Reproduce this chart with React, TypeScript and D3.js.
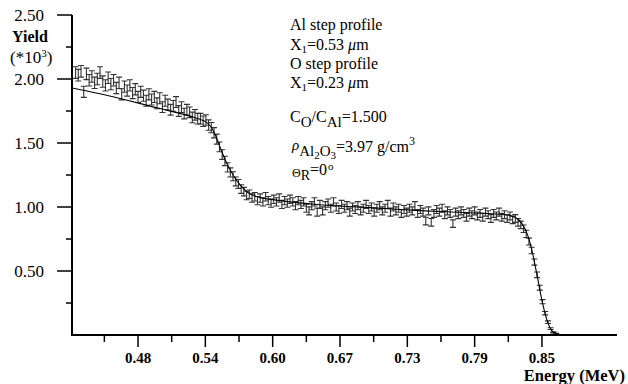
import React from "react";
import * as d3 from "d3";

// Spectrum: yield (×10^3) per channel, channel energies E0 + i*CHANNEL_WIDTH (MeV)
const E0 = 0.4225;
const CHANNEL_WIDTH = 0.0025;
const yieldData = [
  2.05, 2.03, 2.06, 1.90, 2.04, 1.99, 2.02, 1.97, 2.00, 2.05,
  1.98, 1.95, 2.01, 1.96, 1.99, 1.93, 1.97, 1.88, 1.94, 1.91,
  1.95, 1.89, 1.92, 1.86, 1.90, 1.87, 1.83, 1.88, 1.84, 1.86,
  1.81, 1.85, 1.78, 1.83, 1.80, 1.76, 1.79, 1.82, 1.75, 1.78,
  1.73, 1.76, 1.74, 1.70, 1.72, 1.69,
  1.69, 1.67, 1.68, 1.64, 1.62, 1.58, 1.53, 1.47, 1.41, 1.36, 1.31, 1.27,
  1.24, 1.20, 1.18, 1.14, 1.12, 1.09, 1.10, 1.07, 1.08, 1.05, 1.07,
  1.04, 1.08, 1.05, 1.03, 1.06, 1.04, 1.07, 1.02, 1.05, 1.03, 1.06,
  1.04, 1.01, 1.05, 1.02, 1.04, 0.99, 0.97, 1.01, 1.04, 0.96, 1.02,
  0.97, 1.01, 1.03, 0.99, 1.04, 1.00, 0.98, 1.02, 0.99, 1.01,
  0.96, 1.00, 0.98, 1.01, 0.97, 0.99, 1.02, 0.98, 1.00, 0.96,
  0.99, 1.01, 0.97, 0.99, 1.02, 0.96, 1.00, 0.97, 0.99, 0.95,
  0.98, 0.96, 0.99, 0.97, 1.01, 0.95, 0.98, 0.96, 0.89, 0.97,
  0.88, 0.95, 0.98, 0.96, 0.99, 0.94, 0.97, 0.95, 0.87, 0.96,
  0.94, 0.97, 0.95, 0.92, 0.96, 0.94, 0.97, 0.93, 0.95, 0.92,
  0.96, 0.94, 0.91, 0.95, 0.93, 0.96, 0.92, 0.94, 0.91, 0.93,
  0.90, 0.91, 0.88, 0.86, 0.83, 0.79, 0.73, 0.66, 0.57, 0.47,
  0.37, 0.26, 0.17, 0.10, 0.05, 0.02, 0.01,
];

// Simulated (fit) curve
const fitEnergy = [
  0.4192, 0.445, 0.4975, 0.5279, 0.5371, 0.5426, 0.5472, 0.5518, 0.5564,
  0.561, 0.5656, 0.5702, 0.5748, 0.5794, 0.585, 0.5923, 0.6108, 0.6476,
  0.6936, 0.7397, 0.7857, 0.8179, 0.8271, 0.8336, 0.8391, 0.8437, 0.8483,
  0.8529, 0.8575, 0.8621, 0.8686, 0.9211,
];
const fitYield = [
  1.93, 1.885, 1.775, 1.71, 1.685, 1.665, 1.625, 1.55, 1.45,
  1.355, 1.28, 1.215, 1.165, 1.125, 1.095, 1.075, 1.05, 1.018,
  0.995, 0.972, 0.955, 0.94, 0.92, 0.87, 0.775, 0.625, 0.43,
  0.235, 0.095, 0.025, 0.003, 0.0,
];

const xTickValues = [0.48, 0.542, 0.604, 0.666, 0.728, 0.79, 0.852];
const xTickLabels = ["0.48", "0.54", "0.60", "0.67", "0.73", "0.79", "0.85"];
const xMinorTicks = [0.449, 0.511, 0.573, 0.635, 0.697, 0.759, 0.821];
const yTickValues = [0.5, 1.0, 1.5, 2.0, 2.5];
const yTickLabels = ["0.50", "1.00", "1.50", "2.00", "2.50"];
const yMinorTicks = [0.25, 0.75, 1.25, 1.75, 2.25];

const W = 628;
const H = 384;
const FONT = "'Liberation Serif', 'Times New Roman', serif";

export default function App() {
  const x = d3.scaleLinear().domain([0.4192, 0.9211]).range([72, 617]);
  const y = d3.scaleLinear().domain([0, 2.5]).range([335, 15]);

  const points = yieldData.map((v, i) => ({ e: E0 + i * CHANNEL_WIDTH, v, err: Math.sqrt(v * 1000) / 1000 }));
  const fit = fitEnergy.map((e, i) => [e, fitYield[i]] as [number, number]);
  const line = d3
    .line<[number, number]>()
    .x((d) => x(d[0]))
    .y((d) => y(d[1]))
    .curve(d3.curveMonotoneX);

  const cap = 3;

  return (
    <svg
      width={W}
      height={H}
      style={{ position: "absolute", left: 0, top: 0, background: "#fff" }}
      fontFamily={FONT}
    >
      <rect width={W} height={H} fill="#fff" />
      {/* error bars */}
      <g stroke="#333" strokeWidth={1.1} fill="none">
        {points.map((p, i) => {
          const px = x(p.e);
          const y1 = y(p.v + p.err);
          const y2 = y(p.v - p.err);
          return (
            <path
              key={i}
              d={`M${px - cap},${y1}H${px + cap}M${px},${y1}V${y2}M${px - cap},${y2}H${px + cap}`}
            />
          );
        })}
      </g>
      {/* fit line */}
      <path d={line(fit) || ""} fill="none" stroke="#000" strokeWidth={1.1} />

      {/* axes */}
      <g stroke="#000" fill="none">
        <line x1={72} x2={72} y1={y(2.5)} y2={336} strokeWidth={2} />
        <line x1={71} x2={617} y1={335} y2={335} strokeWidth={2} />
        {yTickValues.map((t) => (
          <line key={t} x1={57} x2={72} y1={y(t)} y2={y(t)} strokeWidth={1.5} />
        ))}
        {yMinorTicks.map((t) => (
          <line key={t} x1={66} x2={72} y1={y(t)} y2={y(t)} strokeWidth={1.5} />
        ))}
        {xTickValues.map((t) => (
          <line key={t} x1={x(t)} x2={x(t)} y1={335} y2={347} strokeWidth={1.5} />
        ))}
        {xMinorTicks.map((t) => (
          <line key={t} x1={x(t)} x2={x(t)} y1={335} y2={342} strokeWidth={1.5} />
        ))}
      </g>
      <g fontSize={17} fill="#000" textAnchor="end">
        {yTickValues.map((t, i) => (
          <text key={t} x={44} y={y(t) + 6}>
            {yTickLabels[i]}
          </text>
        ))}
      </g>
      <g fontSize={15} fontWeight="bold" fill="#000" textAnchor="middle">
        {xTickValues.map((t, i) => (
          <text key={t} x={x(t)} y={363}>
            {xTickLabels[i]}
          </text>
        ))}
      </g>
      <text x={625} y={381} fontSize={16.5} fontWeight="bold" textAnchor="end">
        Energy (MeV)
      </text>
      <text x={12} y={42} fontSize={16} fontWeight="bold">
        Yield
      </text>
      <text x={10} y={63} fontSize={17}>
        (*10<tspan dy={-6} fontSize={11}>3</tspan>
        <tspan dy={6}>)</tspan>
      </text>

      {/* annotations */}
      <g fontSize={16} fill="#000">
        <text x={290} y={30}>Al step profile</text>
        <text x={290} y={50}>
          X<tspan dy={3} fontSize={11}>1</tspan>
          <tspan dy={-3}>=0.53 </tspan>
          <tspan fontStyle="italic">μ</tspan>m
        </text>
        <text x={290} y={69}>O step profile</text>
        <text x={290} y={88}>
          X<tspan dy={3} fontSize={11}>1</tspan>
          <tspan dy={-3}>=0.23 </tspan>
          <tspan fontStyle="italic">μ</tspan>m
        </text>
        <text x={290} y={122}>
          C<tspan dy={5} fontSize={15}>O</tspan>
          <tspan dy={-5}>/C</tspan>
          <tspan dy={5} fontSize={15}>Al</tspan>
          <tspan dy={-5}>=1.500</tspan>
        </text>
        <text x={292} y={150}>
          <tspan fontStyle="italic" fontSize={15}>ρ</tspan>
          <tspan dy={6} fontSize={15}>Al</tspan>
          <tspan dy={3} fontSize={11}>2</tspan>
          <tspan dy={-3} fontSize={15}>O</tspan>
          <tspan dy={3} fontSize={11}>3</tspan>
          <tspan dy={-7}>=3.97 g/cm</tspan>
          <tspan dy={-7} fontSize={12}>3</tspan>
        </text>
        <text x={292} y={177}>
          <tspan fontSize={12}>Θ</tspan>
          <tspan dy={3} fontSize={14}>R</tspan>
          <tspan dy={-5}>=0</tspan>
          <tspan dx={1} dy={-5} fontSize={11}>o</tspan>
        </text>
      </g>
    </svg>
  );
}
